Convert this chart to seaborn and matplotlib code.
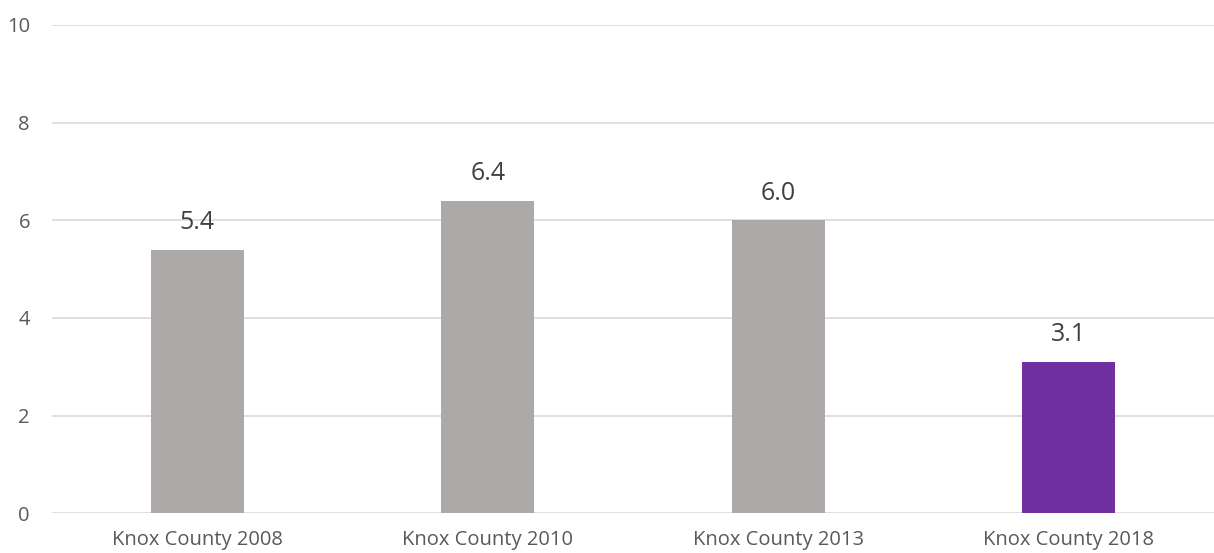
import matplotlib
matplotlib.use('Agg')
import matplotlib.pyplot as plt
import seaborn as sns
import pandas as pd

categories = ['Knox County 2008', 'Knox County 2010', 'Knox County 2013', 'Knox County 2018']
values = [5.4, 6.4, 6.0, 3.1]
bar_colors = ['#ADA9A8', '#ADA9A8', '#ADA9A8', '#7030A0']
y_ticks = [0, 2, 4, 6, 8, 10]

sns.set_style('white')
plt.rcParams['font.family'] = ['Open Sans', 'DejaVu Sans']

df = pd.DataFrame({'category': categories, 'value': values})

fig = plt.figure(figsize=(12.14, 5.53), dpi=100)
ax = fig.add_axes([0.043, 0.072, 0.957, 0.883])

sns.barplot(data=df, x='category', y='value', hue='category', palette=bar_colors,
            width=0.32, legend=False, ax=ax, saturation=1, linewidth=0)

for i, v in enumerate(values):
    ax.text(i, v + 0.3, f'{v:.1f}', ha='center', va='bottom',
            fontsize=18, color='#404040')

ax.set_ylim(0, 10)
ax.set_yticks(y_ticks)
ax.yaxis.grid(True, color='#D9D9D9', linewidth=1.2)
ax.set_axisbelow(True)
for s in ax.spines.values():
    s.set_visible(False)
ax.tick_params(axis='both', length=0, labelsize=14.5, colors='#595959')
ax.tick_params(axis='y', pad=16)
ax.tick_params(axis='x', pad=12)
ax.set_xlabel('')
ax.set_ylabel('')

fig.savefig('out.png', dpi=100)
